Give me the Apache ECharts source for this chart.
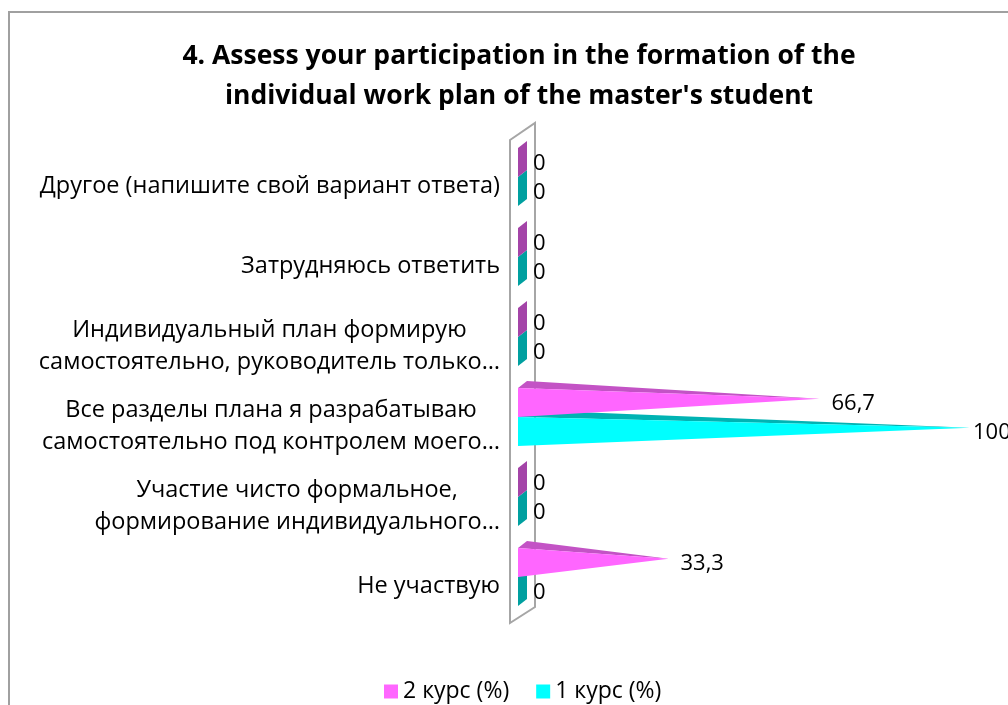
<!DOCTYPE html>
<html>
<head>
<meta charset="utf-8">
<script src="https://cdn.jsdelivr.net/npm/echarts@6/dist/echarts.min.js"></script>
<style>
  html, body { margin: 0; padding: 0; background: #fff; }
  #chart { width: 1008px; height: 705px; }
</style>
</head>
<body>
<div id="chart"></div>
<script>
// categories from bottom to top (as in the Excel chart)
var categories = [
  "Не участвую",
  "Участие чисто формальное,\nформирование индивидуального…",
  "Все разделы плана я разрабатываю\nсамостоятельно под контролем моего…",
  "Индивидуальный план формирую\nсамостоятельно, руководитель только…",
  "Затрудняюсь ответить",
  "Другое (напишите свой вариант ответа)"
];
var seriesNames = ["2 курс (%)", "1 курс (%)"];
var course2 = [33.3, 0, 66.7, 0, 0, 0];
var course1 = [0, 0, 100, 0, 0, 0];

var FONT = "Open Sans";
var GL = 518, GR = 970, GT = 137, GB = 617;

// front colour, top face colour, flat (zero) colour
var colors = [
  { front: "#ff66ff", top: "#c353c5", flat: "#a444a8" },
  { front: "#00ffff", top: "#00b3b3", flat: "#00a0a0" }
];

function fmt(v) {
  return String(v).replace(".", ",");
}

function coneRenderer(idx) {
  var c = colors[idx];
  return function (params, api) {
    var val = api.value(0);
    var cat = api.value(1);
    var base = api.coord([0, cat]);
    var tip = api.coord([val, cat]);
    var band = api.size([0, 1])[1];
    var slot = band * 0.3625;
    var x0 = base[0];
    var yTop = base[1] + (idx === 0 ? -slot : 0);
    var yBot = yTop + slot;
    var dx = 9, dy = 7;
    var children = [];
    var labelX;
    if (val <= 0) {
      children.push({
        type: "polygon",
        shape: { points: [[x0, yTop], [x0 + dx, yTop - dy], [x0 + dx, yBot - dy], [x0, yBot]] },
        style: { fill: c.flat }
      });
      labelX = x0 + 15;
    } else {
      var tipY = yTop + slot * 0.37;
      children.push({
        type: "polygon",
        shape: { points: [[x0, yTop], [x0 + dx, yTop - dy], [tip[0], tipY]] },
        style: { fill: c.top }
      });
      children.push({
        type: "polygon",
        shape: { points: [[x0, yTop], [x0, yBot], [tip[0], tipY]] },
        style: { fill: c.front }
      });
      // labels near the right edge get pulled in, like Excel does
      labelX = Math.min(tip[0] + 12, GR + 3);
    }
    children.push({
      type: "text",
      style: {
        x: labelX,
        y: yTop + slot / 2 + 1,
        text: fmt(val),
        fill: "#000",
        font: "22px '" + FONT + "'",
        textAlign: "left",
        textVerticalAlign: "middle"
      }
    });
    return { type: "group", children: children };
  };
}

var myChart = echarts.init(document.getElementById("chart"));

myChart.setOption({
  animation: false,
  title: {
    text: "4. Assess your participation in the formation of the\nindividual work plan of the master's student",
    left: 514,
    top: 31,
    textAlign: "center",
    textStyle: {
      fontFamily: FONT,
      fontWeight: "bold",
      fontSize: 26.5,
      lineHeight: 40,
      color: "#000"
    }
  },
  legend: {
    data: seriesNames,
    left: 379,
    top: 675,
    icon: "rect",
    itemWidth: 14,
    itemHeight: 14,
    itemGap: 27,
    textStyle: { fontFamily: FONT, fontSize: 23, color: "#000" }
  },
  graphic: [
    {
      type: "rect",
      z: 0,
      silent: true,
      shape: { x: 9, y: 12, width: 1200, height: 900 },
      style: { fill: "none", stroke: "#a0a0a0", lineWidth: 2 }
    },
    {
      type: "polygon",
      z: 0,
      silent: true,
      shape: { points: [[GL - 8, GT + 3], [GL + 17, GT - 14], [GL + 17, GB - 10], [GL - 8, GB + 6]] },
      style: { fill: "#fff", stroke: "#a6a6a6", lineWidth: 2 }
    }
  ],
  grid: {
    left: GL,
    right: 1008 - GR,
    top: GT,
    bottom: 705 - GB,
    containLabel: false
  },
  xAxis: {
    type: "value",
    min: 0,
    max: 100,
    show: false
  },
  yAxis: {
    type: "category",
    data: categories,
    axisLine: { show: false },
    axisTick: { show: false },
    splitLine: { show: false },
    axisLabel: {
      margin: 18,
      color: "#000",
      fontFamily: FONT,
      fontSize: 23.5,
      lineHeight: 32,
      padding: [18, 0, 0, 0],
      formatter: function (v) {
        return v.split("\n").map(function (s) { return "{a|" + s + "}"; }).join("\n");
      },
      rich: {
        a: { align: "center", fontFamily: FONT, fontSize: 23.5, lineHeight: 32, color: "#000" }
      }
    }
  },
  series: [
    {
      name: seriesNames[0],
      type: "custom",
      z: 3,
      itemStyle: { color: colors[0].front },
      renderItem: coneRenderer(0),
      encode: { x: 0, y: 1 },
      data: course2.map(function (v, i) { return [v, i]; })
    },
    {
      name: seriesNames[1],
      type: "custom",
      z: 2,
      itemStyle: { color: colors[1].front },
      renderItem: coneRenderer(1),
      encode: { x: 0, y: 1 },
      data: course1.map(function (v, i) { return [v, i]; })
    }
  ]
});
</script>
</body>
</html>
